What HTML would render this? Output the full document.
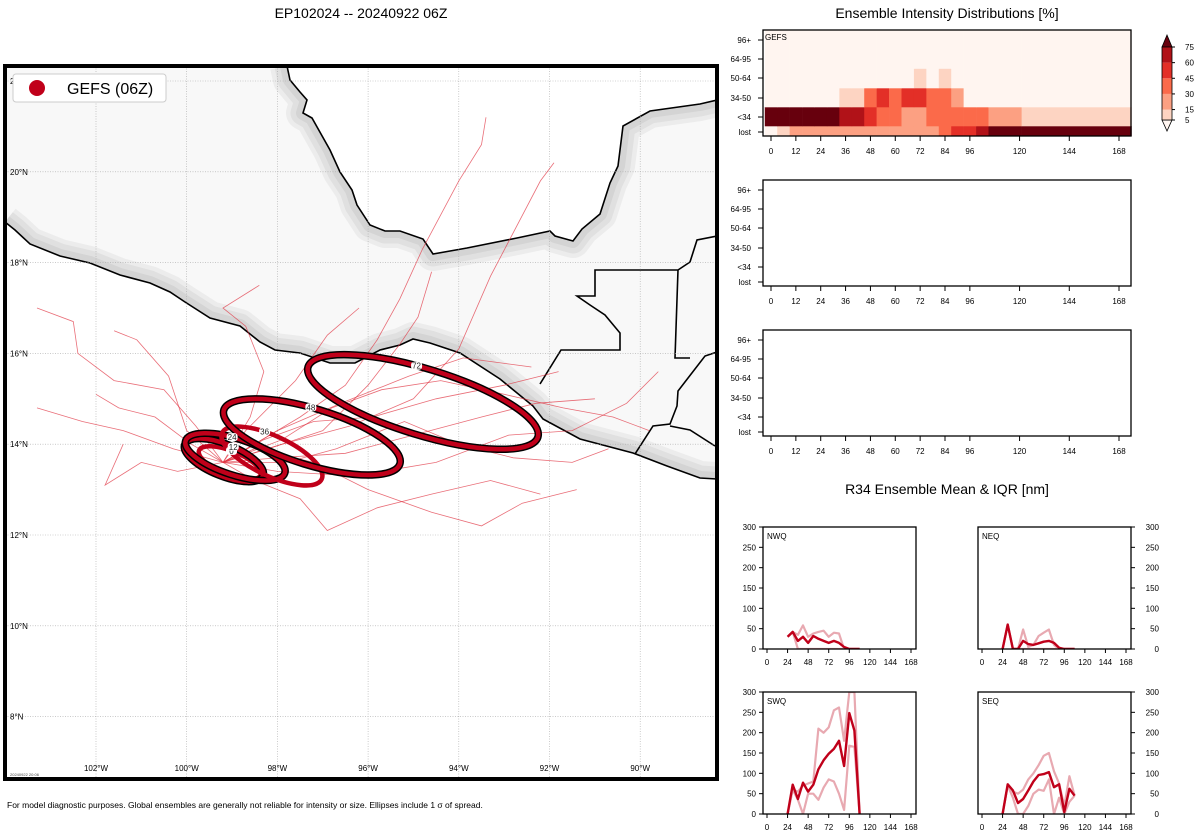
<!DOCTYPE html>
<html><head><meta charset="utf-8"><style>
html,body{margin:0;padding:0;background:#fff;}
svg{display:block;font-family:"Liberation Sans",sans-serif;}
</style></head><body>
<svg id="root" width="1200" height="840" viewBox="0 0 1200 840" xmlns="http://www.w3.org/2000/svg">
<text x="361" y="18" text-anchor="middle" font-size="14">EP102024 -- 20240922 06Z</text>
<text x="947" y="18" text-anchor="middle" font-size="14">Ensemble Intensity Distributions [%]</text>
<text x="947" y="494" text-anchor="middle" font-size="14">R34 Ensemble Mean &amp; IQR [nm]</text>
<text x="7" y="808" font-size="8.5">For model diagnostic purposes. Global ensembles are generally not reliable for intensity or size. Ellipses include 1 σ of spread.</text>
<defs>
<path id="landpoly" d="M5,66 L287,66 L290,80 L300,92 L307,100 L303,113 L312,118 L330,150 L340,172 L352,190 L357,205 L370,225 L385,231 L400,231 L423,239 L433,254 L467,248 L517,238 L550,231 L555,236 L573,241 L582,229 L600,214 L610,183 L618,166 L623,126 L650,111 L700,104 L717,100 L717,479 L700,478 L667,466 L633,453 L580,439 L543,419 L533,406 L500,379 L460,353 L430,343 L413,339 L400,345 L380,350 L355,363 L330,363 L300,353 L275,350 L260,342 L240,326 L210,318 L185,302 L170,292 L150,283 L120,275 L90,263 L60,256 L30,244 L15,230 L5,222 Z"/>
<path id="coastA" fill="none" d="M287,66 L290,80 L300,92 L307,100 L303,113 L312,118 L330,150 L340,172 L352,190 L357,205 L370,225 L385,231 L400,231 L423,239 L433,254 L467,248 L517,238 L550,231 L555,236 L573,241 L582,229 L600,214 L610,183 L618,166 L623,126 L650,111 L700,104 L717,100"/>
<path id="coastB" fill="none" d="M717,479 L700,478 L667,466 L633,453 L580,439 L543,419 L533,406 L500,379 L460,353 L430,343 L413,339 L400,345 L380,350 L355,363 L330,363 L300,353 L275,350 L260,342 L240,326 L210,318 L185,302 L170,292 L150,283 L120,275 L90,263 L60,256 L30,244 L15,230 L5,222"/>
<clipPath id="mapclip"><rect x="5" y="66" width="712" height="713"/></clipPath>
<clipPath id="landclip"><path d="M5,66 L287,66 L290,80 L300,92 L307,100 L303,113 L312,118 L330,150 L340,172 L352,190 L357,205 L370,225 L385,231 L400,231 L423,239 L433,254 L467,248 L517,238 L550,231 L555,236 L573,241 L582,229 L600,214 L610,183 L618,166 L623,126 L650,111 L700,104 L717,100 L717,479 L700,478 L667,466 L633,453 L580,439 L543,419 L533,406 L500,379 L460,353 L430,343 L413,339 L400,345 L380,350 L355,363 L330,363 L300,353 L275,350 L260,342 L240,326 L210,318 L185,302 L170,292 L150,283 L120,275 L90,263 L60,256 L30,244 L15,230 L5,222 Z"/></clipPath>
</defs>
<g id="map" clip-path="url(#mapclip)">
<rect x="5" y="66" width="712" height="713" fill="#fff"/>
<g>
<use href="#landpoly" fill="#f8f8f8"/>
<g clip-path="url(#landclip)" stroke-linejoin="round">
<use href="#coastA" stroke="#ececec" stroke-width="34"/><use href="#coastB" stroke="#ececec" stroke-width="34"/>
<use href="#coastA" stroke="#e0e0e0" stroke-width="25"/><use href="#coastB" stroke="#e0e0e0" stroke-width="25"/>
<use href="#coastA" stroke="#d4d4d4" stroke-width="14"/><use href="#coastB" stroke="#d4d4d4" stroke-width="14"/>
</g>
<use href="#coastA" stroke="#000" stroke-width="1.6"/>
<use href="#coastB" stroke="#000" stroke-width="1.6"/>
<path d="M540,384 L561,350 L620,350 L620,333 L605,315 L590,305 L577,296 L595,296 L595,270 L678,270 L675,358 L690,358 M635,454 L653,426 L670,424 L677,406 L678,391 L705,356 L717,352 M670,426 L690,430 L715,446 M678,270 L690,262 L697,240 L717,236" fill="none" stroke="#000" stroke-width="1.6"/>
</g>
<g id="grid"></g>
<g id="tracks"></g>
<g id="ellipses"></g>
<text x="10" y="776" font-size="4" fill="#444">20240922 20:06</text>
</g>
<rect x="5" y="66" width="712" height="713" fill="none" stroke="#000" stroke-width="4"/>
<g>
<rect x="13" y="74" width="153" height="28" rx="3" fill="#fff" stroke="#ccc"/>
<circle cx="37" cy="88" r="8" fill="#c0001a"/>
<text x="67" y="94" font-size="16">GEFS (06Z)</text>
</g>
<g id="heat"></g>
<g id="r34"></g>
</svg>
<script>
// ---------- map data ----------
const trackLons = [
 [-99.2,-98.5,-97.5,-96.5,-95.8,-95.3,-94.8,-94.0,-93.5,-93.4],
 [-99.2,-98.3,-97.2,-95.9,-94.5,-93.0,-91.8],
 [-99.2,-98.0,-96.5,-95.0,-93.5,-92.3,-91.0],
 [-99.2,-100.3,-101.4,-102.3,-103.3],
 [-99.2,-99.8,-100.5,-101.6,-102.4,-102.5,-103.3],
 [-99.2,-98.6,-98.3,-98.7,-99.2,-98.4],
 [-99.2,-98.5,-97.5,-96.9,-95.8,-94.6,-93.3,-92.2],
 [-99.2,-98.2,-97.0,-96.0,-95.3,-94.9,-94.6],
 [-99.2,-97.8,-96.7,-95.2,-94.0,-92.8,-91.5,-90.7],
 [-99.2,-100.0,-100.4,-101.1,-101.6],
 [-99.2,-98.0,-96.6,-95.1,-93.9,-92.4],
 [-99.2,-98.0,-96.3,-94.5,-92.9,-91.5,-90.3,-89.6],
 [-99.2,-97.9,-96.4,-95.0,-94.0,-93.3,-92.2,-91.9],
 [-99.2,-100.2,-101.0,-101.8,-101.4],
 [-99.2,-98.7,-97.6,-96.9,-96.2],
 [-99.2,-98.5,-97.2,-96.0,-94.6,-93.5,-92.6,-91.4],
 [-99.2,-99.9,-100.7,-101.5,-102.0],
 [-99.2,-97.9,-96.8,-95.7,-94.4,-93.0,-91.7,-90.6,-89.8]
];
const trackLats = [
 [13.6,14.0,14.6,15.3,16.3,17.2,18.3,19.8,20.6,21.2],
 [13.6,14.1,14.5,14.6,15.0,15.3,15.6],
 [13.6,13.7,13.8,14.2,14.6,14.9,15.0],
 [13.6,13.9,14.3,14.5,14.8],
 [13.6,14.4,15.2,15.4,16.0,16.7,17.0],
 [13.6,14.6,15.6,16.6,17.0,17.5],
 [13.6,13.2,12.8,12.1,12.6,12.9,13.2,12.9],
 [13.6,13.9,14.3,15.3,16.2,16.8,17.8],
 [13.6,13.6,13.9,14.5,14.0,13.7,13.6,13.9],
 [13.6,14.3,15.5,16.3,16.5],
 [13.6,14.3,14.9,15.5,15.9,15.7],
 [13.6,13.4,13.3,13.6,14.2,14.3,14.9,15.6],
 [13.6,14.0,14.4,15.0,16.1,17.7,19.8,20.2],
 [13.6,13.4,13.6,13.1,14.0],
 [13.6,14.3,15.4,16.4,17.0],
 [13.6,13.9,13.6,13.0,12.5,12.2,12.7,13.0],
 [13.6,14.0,14.6,14.8,15.1],
 [13.6,14.1,14.8,15.2,15.4,15.1,14.8,14.6,14.3]
];
const ellHours = ["0","12","24","36","48","72"];
const ellLon = [-99.05,-99.18,-98.93,-98.12,-97.24,-94.79];
const ellLat = [13.59,13.65,13.72,13.74,14.16,14.93];
const ellA = [0.73,0.93,1.15,1.21,2.03,2.65];
const ellB = [0.26,0.35,0.40,0.44,0.62,0.73];
const ellRot = [22,22,18,25,17,17];
const ellLabelAngle = [-95,-85,-100,-108,-96,-98];
const ellOutline = [false,true,true,false,true,true];
const latTicks = [22,20,18,16,14,12,10,8];
const lonTicks = [-102,-100,-98,-96,-94,-92,-90];

// ---------- intensity heatmap data ----------
const heatEdges = [-3,3,9,15,21,27,33,39,45,51,57,63,69,75,81,87,93,99,105,121,174];
const heatRows = ["lost","<34","34-50","50-64","64-95","96+"];
const rowLost = [0,10,20,20,20,20,20,20,20,20,20,20,20,20,35,50,50,65,85,85];
const rowTS = [85,85,85,85,85,85,65,65,50,35,35,20,20,35,35,35,35,35,20,10];
const row3450 = [0,0,0,0,0,0,10,10,35,50,35,50,50,35,35,20,0,0,0,0];
const row5064 = [0,0,0,0,0,0,0,0,0,0,0,0,10,0,10,0,0,0,0,0];
const row6495 = [0,0,0,0,0,0,0,0,0,0,0,0,0,0,0,0,0,0,0,0];
const row96 = [0,0,0,0,0,0,0,0,0,0,0,0,0,0,0,0,0,0,0,0];
const heatLevels = [5,15,30,45,60,75];
const heatColors = ["#fff5f0","#fdd4c2","#fca082","#fb6a4a","#e32f27","#b11218","#67000d"];
const hourTicks = [0,12,24,36,48,60,72,84,96,120,144,168];

// ---------- R34 data ----------
const r34Hours = [24,30,36,42,48,54,60,66,72,78,84,90,96,102,108];
const nwqMean = [30,42,20,30,15,32,25,20,15,20,15,5,0,0,0];
const nwqUp = [30,42,35,58,30,38,42,45,30,40,38,0,0,0,0];
const nwqLo = [30,42,0,0,0,0,0,0,0,0,0,0,0,0,0];
const neqMean = [0,60,0,0,20,12,10,14,18,20,15,3,0,0,0];
const neqUp = [0,60,0,0,48,5,10,32,40,48,10,0,0,0,0];
const neqLo = [0,60,0,0,0,0,0,0,0,0,0,0,0,0,0];
const swqMean = [0,72,37,77,55,72,110,132,148,160,180,118,248,205,0];
const swqUp = [0,60,55,70,75,80,210,200,213,255,262,180,310,300,0];
const swqLo = [0,60,35,0,50,50,35,65,85,80,50,10,168,165,0];
const seqMean = [0,73,58,27,37,58,80,96,98,103,66,73,5,62,45];
const seqUp = [0,70,55,50,60,85,100,120,143,150,105,75,20,93,45];
const seqLo = [0,70,40,0,0,20,50,60,57,85,0,40,0,30,45];
const r34Ticks = [0,50,100,150,200,250,300];

// ---------- drawing ----------
const NS="http://www.w3.org/2000/svg";
function mk(tag,attrs,parent){const e=document.createElementNS(NS,tag);for(const k in attrs)e.setAttribute(k,attrs[k]);parent.appendChild(e);return e;}
const lonX = lon => 96 + (lon + 102) * 45.35;
const latY = lat => 81 + (22 - lat) * 45.4;

const grid=document.getElementById('grid');
lonTicks.forEach(l=>{
 const x=lonX(l);
 const g=mk('line',{x1:x,y1:66,x2:x,y2:779,stroke:'#aaa','stroke-width':0.6,'stroke-dasharray':'1,1.5'},grid);
 
 
 const t=mk('text',{x:x,y:771,'text-anchor':'middle','font-size':8},grid);t.textContent=Math.abs(l)+'°W';
 
 
});
latTicks.forEach(l=>{
 const y=latY(l);
 const g=mk('line',{x1:5,y1:y,x2:717,y2:y,stroke:'#aaa','stroke-width':0.6,'stroke-dasharray':'1,1.5'},grid);
 
 
 const t=mk('text',{x:10,y:y+3,'font-size':8},grid);t.textContent=l+'°N';
 
 
});
const tg=document.getElementById('tracks');
trackLons.forEach((lons,i)=>{
 const pts=lons.map((lo,j)=>lonX(lo).toFixed(1)+','+latY(trackLats[i][j]).toFixed(1)).join(' ');
 const p=mk('polyline',{points:pts,fill:'none',stroke:'#e0303f','stroke-opacity':0.7,'stroke-width':0.8},tg);
 
 
});
const eg=document.getElementById('ellipses');
ellHours.forEach((h,i)=>{
 const cx=lonX(ellLon[i]),cy=latY(ellLat[i]),rx=ellA[i]*45.35,ry=ellB[i]*45.4;
 const tr='rotate('+ellRot[i]+' '+cx+' '+cy+')';
 if(ellOutline[i]){
  const o=mk('ellipse',{cx:cx,cy:cy,rx:rx,ry:ry,fill:'none',stroke:'#000','stroke-width':7.5,transform:tr},eg);
  
  
 }
 const e=mk('ellipse',{cx:cx,cy:cy,rx:rx,ry:ry,fill:'none',stroke:'#c0001a','stroke-width':4.5,transform:tr},eg);
 
 
});
ellHours.forEach((h,i)=>{
 const cx=lonX(ellLon[i]),cy=latY(ellLat[i]),rx=ellA[i]*45.35,ry=ellB[i]*45.4;
 const a=ellRot[i]*Math.PI/180, th=ellLabelAngle[i]*Math.PI/180;
 const lx=cx+rx*Math.cos(th)*Math.cos(a)-ry*Math.sin(th)*Math.sin(a);
 const ly=cy+rx*Math.cos(th)*Math.sin(a)+ry*Math.sin(th)*Math.cos(a);
 mk('rect',{x:lx-5.5,y:ly-4,width:11,height:8,fill:'#fff',rx:3},eg);
 const t=mk('text',{x:lx,y:ly+3,'text-anchor':'middle','font-size':8,fill:'#222'},eg);t.textContent=h;
 
 
});

// heatmap panels
const hm=document.getElementById('heat');
function hx(h,x0){return x0+8+(h)*(348/168);}
const rowTop=[126,107,88,68.5,49,30], rowBot=[136,126,107,88,68.5,49], rowTickY=[132,117,98,78,59,40];
const allRows=[rowLost,rowTS,row3450,row5064,row6495,row96];
function colorFor(v){let k=0;while(k<heatLevels.length&&v>=heatLevels[k])k++;return heatColors[k];}
function intensityPanel(y0,withData,name){
 const g=mk('g',{},hm);
 
 
 const off=y0-30;
 if(withData){
  allRows.forEach((row,r)=>{
   row.forEach((v,c)=>{
    const x1=hx(heatEdges[c],763),x2=hx(heatEdges[c+1],763);
    const rc=mk('rect',{x:x1,y:rowTop[r]+off,width:x2-x1+0.3,height:rowBot[r]-rowTop[r]+0.3,fill:colorFor(v)},g);
    
    
   });
  });
  const lb=mk('text',{x:765,y:y0+10,'font-size':8},g);lb.textContent='GEFS';
  
  
 }
 mk('rect',{x:763,y:y0,width:368,height:106,fill:'none',stroke:'#000','stroke-width':1.3},g);
 heatRows.forEach((r,i)=>{
  const y=rowTickY[i]+off;
  mk('line',{x1:758,y1:y,x2:763,y2:y,stroke:'#000'},g);
  const t=mk('text',{x:751,y:y+3,'text-anchor':'end','font-size':8},g);t.textContent=r;
  
  
 });
 hourTicks.forEach(h=>{
  const x=hx(h,763);
  mk('line',{x1:x,y1:y0+106,x2:x,y2:y0+111,stroke:'#000'},g);
  const t=mk('text',{x:x,y:y0+124,'text-anchor':'middle','font-size':8},g);t.textContent=h;
  
  
 });
}
intensityPanel(30,true,'intensity-heatmap');
intensityPanel(180,false,'intensity-panel-2');
intensityPanel(330,false,'intensity-panel-3');
// colorbar
const cb=mk('g',{},hm);


const cbY=l=>120-(l-5)/70*73;
mk('polygon',{points:'1162,47 1167,35 1172,47',fill:heatColors[6],stroke:'#000','stroke-width':0.8},cb);
mk('polygon',{points:'1162,120 1167,131 1172,120',fill:heatColors[0],stroke:'#000','stroke-width':0.8},cb);
for(let k=0;k<heatLevels.length-1;k++){
 mk('rect',{x:1162,y:cbY(heatLevels[k+1]),width:10,height:cbY(heatLevels[k])-cbY(heatLevels[k+1]),fill:heatColors[k+1]},cb);
}
mk('rect',{x:1162,y:47,width:10,height:73,fill:'none',stroke:'#000','stroke-width':0.8},cb);
heatLevels.forEach(l=>{
 const y=cbY(l);
 mk('line',{x1:1172,y1:y,x2:1175,y2:y,stroke:'#000'},cb);
 const t=mk('text',{x:1185,y:y+3,'font-size':8},cb);t.textContent=l;
 
 
});

// R34 panels
const rg=document.getElementById('r34');
function r34Panel(x0,y0,label,mean,up,lo,rightAxis,showLeft){
 const g=mk('g',{},rg);
 
 
 const W=153,H=122;
 const X=h=>x0+4+h*(144/168), Y=v=>y0+H-Math.min(v,300)/300*H;
 const cid='c'+label;
 const cp=mk('clipPath',{id:cid},g);mk('rect',{x:x0,y:y0,width:W,height:H},cp);
 const pl=(arr,col,w,nm)=>{
  const p=mk('polyline',{points:r34Hours.map((h,i)=>X(h).toFixed(1)+','+Y(arr[i]).toFixed(1)).join(' '),fill:'none',stroke:col,'stroke-width':w,'clip-path':'url(#'+cid+')','stroke-linejoin':'round'},g);
  
  
 };
 pl(up,'#e8a9b1',2.2,'iqr-upper');pl(lo,'#e8a9b1',2.2,'iqr-lower');pl(mean,'#c0001a',2.4,'mean-line');
 mk('rect',{x:x0,y:y0,width:W,height:H,fill:'none',stroke:'#000','stroke-width':1.3},g);
 const lt=mk('text',{x:x0+4,y:y0+12,'font-size':8},g);lt.textContent=label;
 
 
 [0,24,48,72,96,120,144,168].forEach(h=>{
  mk('line',{x1:X(h),y1:y0+H,x2:X(h),y2:y0+H+4,stroke:'#000'},g);
  const t=mk('text',{x:X(h),y:y0+H+16,'text-anchor':'middle','font-size':8},g);t.textContent=h;
  
  
 });
 r34Ticks.forEach(v=>{
  const y=Y(v);
  if(showLeft){
   mk('line',{x1:x0-4,y1:y,x2:x0,y2:y,stroke:'#000'},g);
   const t=mk('text',{x:x0-7,y:y+3,'text-anchor':'end','font-size':8},g);t.textContent=v;
   
   
  }
  if(rightAxis){
   mk('line',{x1:x0+W,y1:y,x2:x0+W+4,y2:y,stroke:'#000'},g);
   const t=mk('text',{x:x0+W+28,y:y+3,'text-anchor':'end','font-size':8},g);t.textContent=v;
   
   
  }
 });
}
r34Panel(763,527,'NWQ',nwqMean,nwqUp,nwqLo,false,true);
r34Panel(978,527,'NEQ',neqMean,neqUp,neqLo,true,false);
r34Panel(763,692,'SWQ',swqMean,swqUp,swqLo,false,true);
r34Panel(978,692,'SEQ',seqMean,seqUp,seqLo,true,false);
</script>
</body></html>
